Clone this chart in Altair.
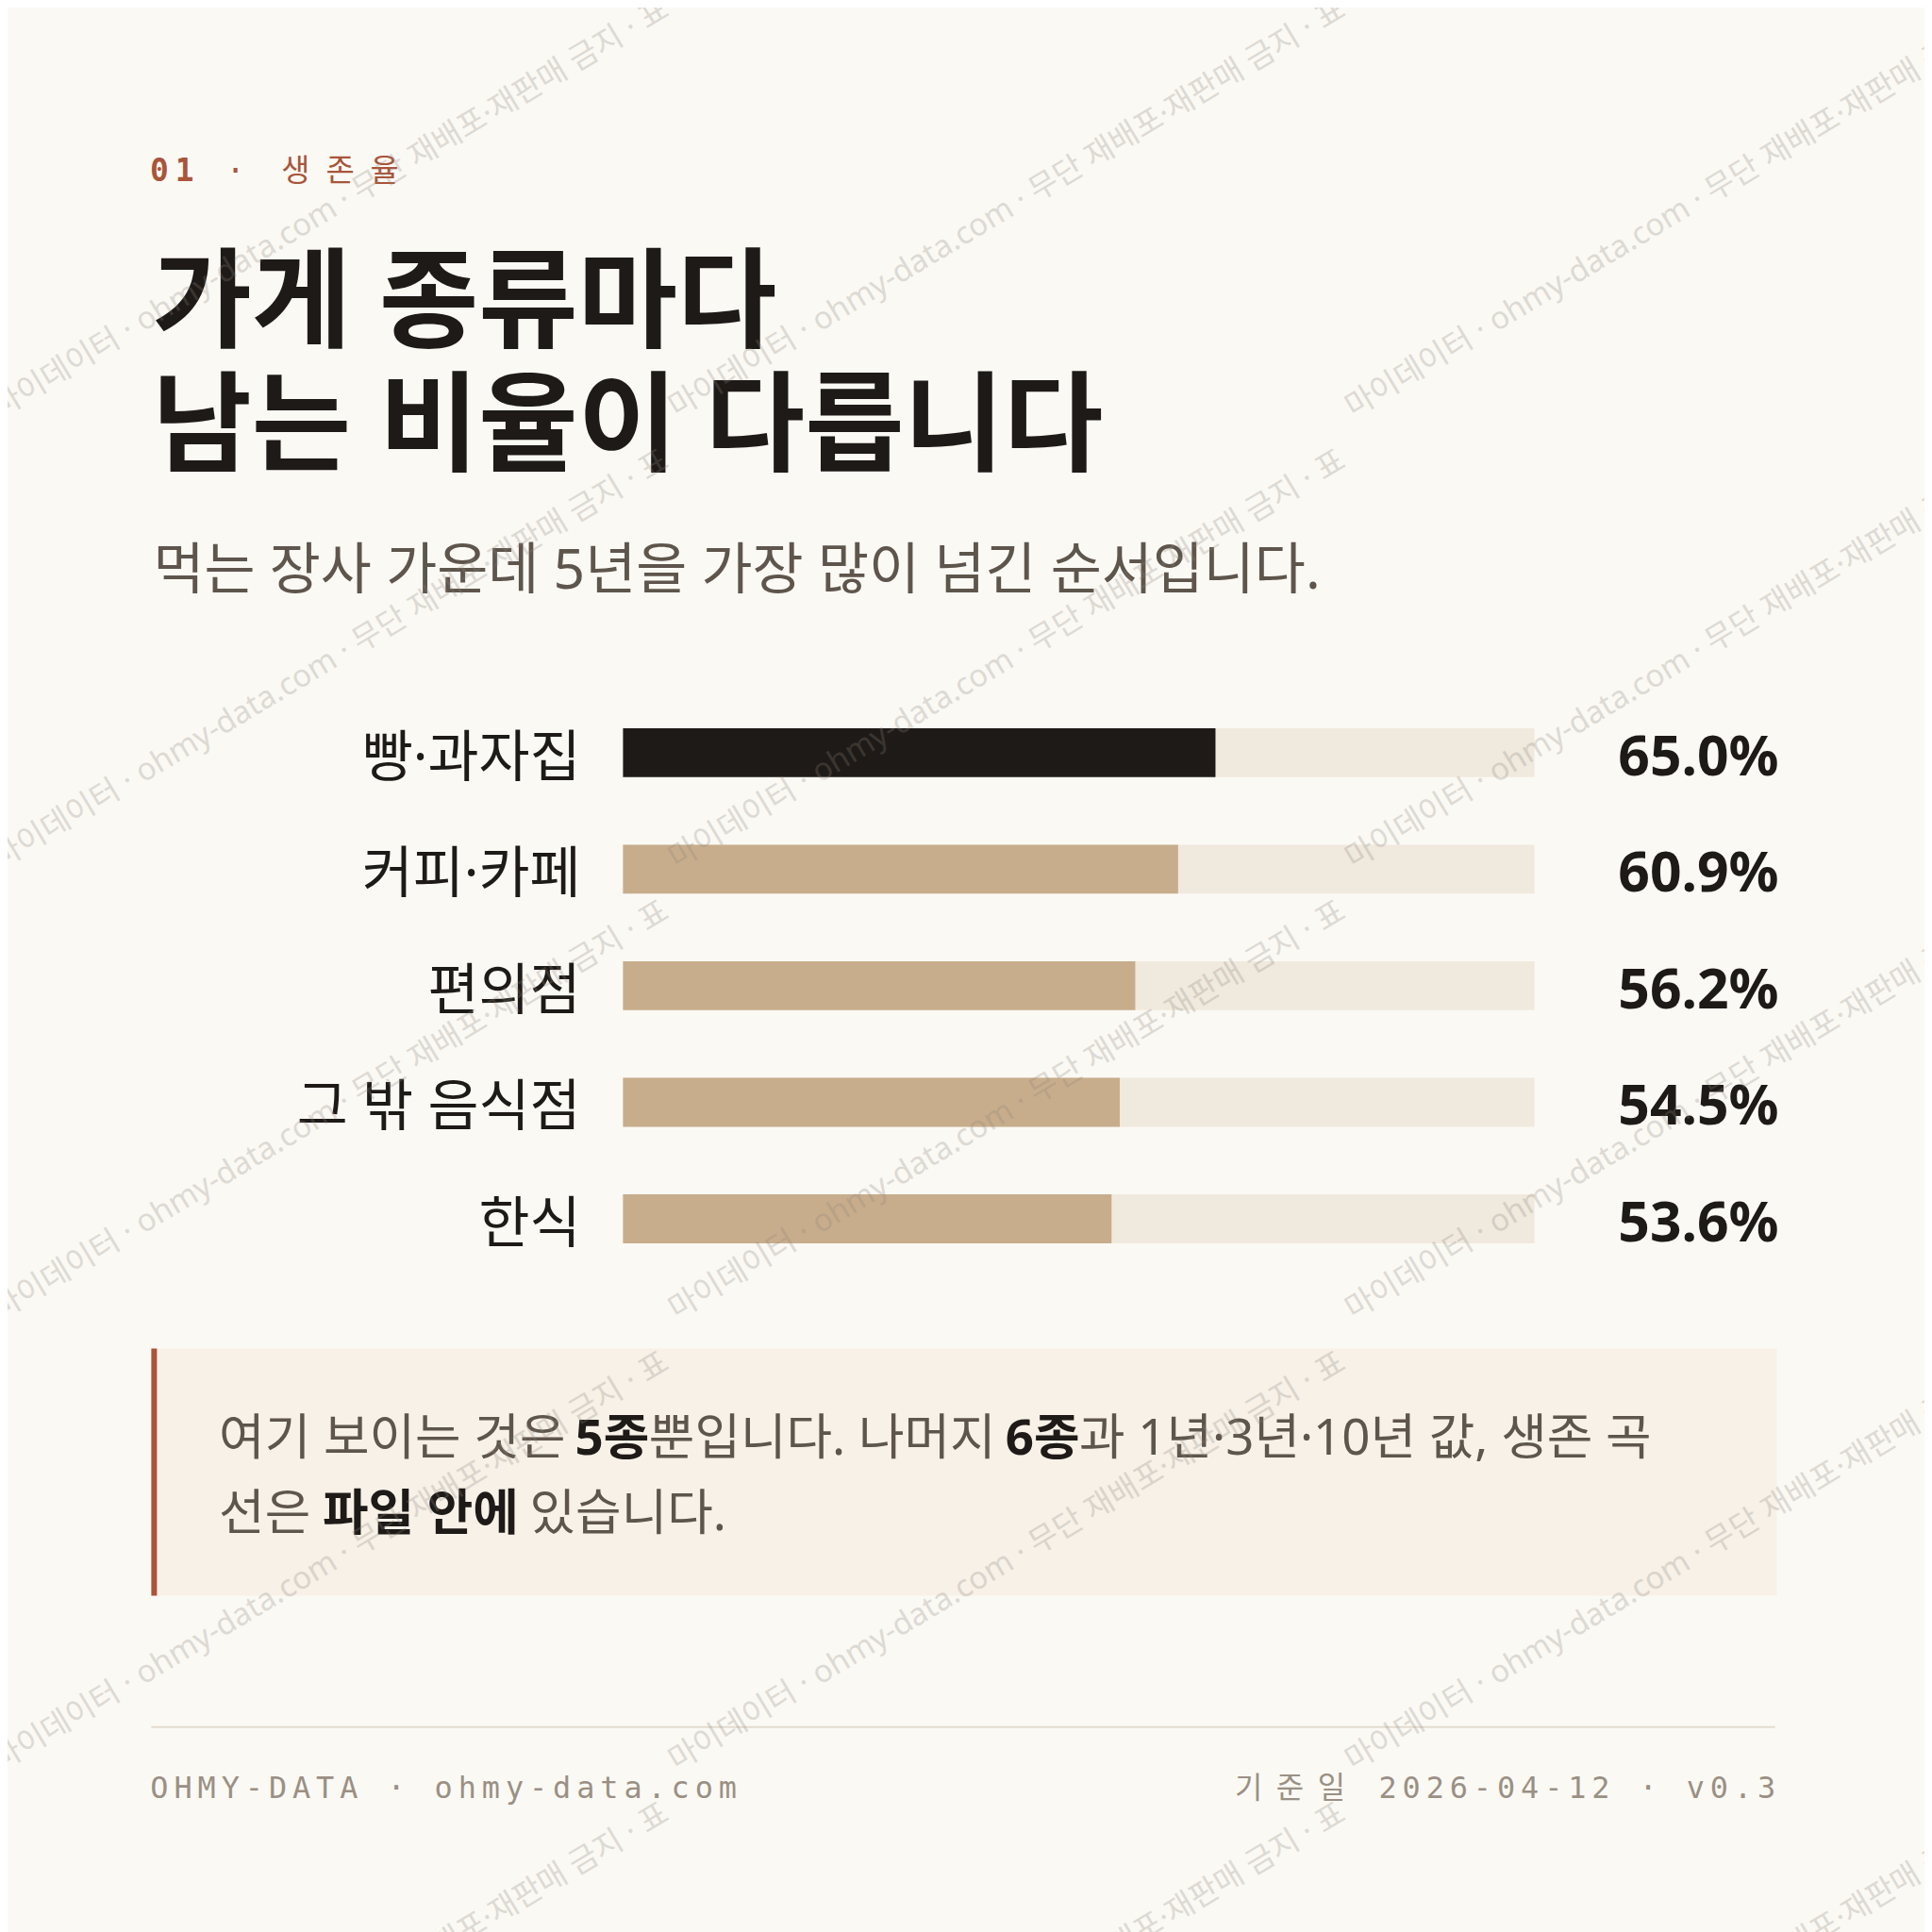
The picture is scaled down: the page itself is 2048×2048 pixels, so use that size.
"Survival rate card: store types that most often pass five years"

import altair as alt
import pandas as pd

CATEGORIES = ["빵·과자집", "커피·카페", "편의점", "그 밖 음식점", "한식"]
RATES = [65.0, 60.9, 56.2, 54.5, 53.6]

KICKER = "01 · 생존율"
TITLE_LINES = ["가게 종류마다", "남는 비율이 다릅니다"]
SUBTITLE = "먹는 장사 가운데 5년을 가장 많이 넘긴 순서입니다."
NOTE_LINE_1 = [("여기 보이는 것은 ", False), ("5종", True), ("뿐입니다. 나머지 ", False),
               ("6종", True), ("과 1년·3년·10년 값, 생존 곡", False)]
NOTE_LINE_2 = [("선은 ", False), ("파일 안에", True), (" 있습니다.", False)]
FOOTER_LEFT = "OHMY-DATA · ohmy-data.com"
FOOTER_RIGHT = "기준일 2026-04-12 · v0.3"
WATERMARK = "마이데이터 · ohmy-data.com · 무단 재배포·재판매 금지 · 표"

BG = "#FBF9F4"
INK = "#1E1A17"
GRAY = "#5E554C"
MUTED = "#9A9084"
RUST = "#A8553A"
TAN = "#C8AD8C"
TRACK = "#F0E9DE"
NOTE_BG = "#F7F1E8"
SANS = "Noto Sans, Noto Sans CJK KR"
MONO = "DejaVu Sans Mono, Noto Sans CJK KR"

ONE = pd.DataFrame({"k": [0]})


def is_hangul(ch):
    return "\uac00" <= ch <= "\ud7a3"


def text_width(s, size):
    "Rough advance width of a string in Noto Sans with CJK fallback"
    w = 0.0
    for ch in s:
        if is_hangul(ch):
            w += 0.91
        elif ch == " ":
            w += 0.26
        elif ch.isdigit():
            w += 0.572
        elif ch in ".,·":
            w += 0.27
        else:
            w += 0.5
    return w * size


def label(text, x, y, size, color=INK, weight="normal", font=SANS, align="left"):
    return alt.Chart(ONE).mark_text(
        text=text, font=font, fontSize=size, fontWeight=weight, color=color,
        align=align, baseline="alphabetic").encode(x=alt.value(x), y=alt.value(y))


def rich_line(segments, x0, y, size):
    layers = []
    x = x0
    for text, bold in segments:
        lead = len(text) - len(text.lstrip())
        layers.append(label(text.strip(), x + lead * 0.26 * size, y, size,
                            color=INK if bold else GRAY,
                            weight="bold" if bold else "normal"))
        x += text_width(text, size)
    return layers


def spaced(text, x0, y, pitch, size, color, bold_upto=0, hangul_cells=1.75):
    "Monospace text with letter spacing, one mark per character"
    rows = []
    cell = 0.0
    for i, ch in enumerate(text):
        w = hangul_cells if is_hangul(ch) else 1.0
        if ch != " ":
            rows.append({"ch": ch, "pos": cell + w / 2, "bold": i < bold_upto})
        cell += w
    df = pd.DataFrame(rows)
    base = alt.Chart(df).encode(
        x=alt.X("pos:Q", scale=alt.Scale(domain=[0, 1], range=[x0, x0 + pitch]), axis=None),
        y=alt.value(y), text="ch:N")
    style = dict(font=MONO, fontSize=size, color=color, align="center", baseline="alphabetic")
    return [
        base.transform_filter("datum.bold").mark_text(fontWeight="bold", **style),
        base.transform_filter("!datum.bold").mark_text(**style),
    ]


def cells(text, hangul_cells=1.75):
    return sum(hangul_cells if is_hangul(ch) else 1.0 for ch in text)


rates = pd.DataFrame({"category": CATEGORIES, "value": RATES})
rates["full"] = 100

y_scale = alt.Scale(type="band", domain=CATEGORIES, range=[727, 1347],
                    paddingInner=0.58, paddingOuter=0.29)
x_scale = alt.Scale(domain=[0, 100], range=[655, 1625])
y_enc = alt.Y("category:N", scale=y_scale, sort=CATEGORIES, axis=None)

base = alt.Chart(rates)
track = base.mark_bar(color=TRACK).encode(
    x=alt.X("full:Q", scale=x_scale, axis=None), y=y_enc)
bars = base.mark_bar().encode(
    x=alt.X("value:Q", scale=x_scale, axis=None), y=y_enc,
    color=alt.when(alt.datum.value == max(RATES)).then(alt.value(INK)).otherwise(alt.value(TAN)))
cat_labels = base.mark_text(font=SANS, fontSize=59, color=INK, align="right", dy=7).encode(
    x=alt.value(610), y=y_enc, text="category:N")
val_labels = base.transform_calculate(
    label="format(datum.value, '.1f') + '%'"
).mark_text(font="Noto Sans", fontSize=59, fontWeight="bold", color=INK,
            align="right", dy=6).encode(x=alt.value(1885), y=y_enc, text="label:N")
bar_block = alt.layer(track, bars, cat_labels, val_labels)

note_box = alt.Chart(ONE).mark_rect(color=NOTE_BG).encode(
    x=alt.value(153), x2=alt.value(1883), y=alt.value(1423), y2=alt.value(1686))
note_edge = alt.Chart(ONE).mark_rect(color=RUST).encode(
    x=alt.value(153), x2=alt.value(159), y=alt.value(1423), y2=alt.value(1686))
footer_rule = alt.Chart(ONE).mark_rule(color="#E3DBCF", strokeWidth=2).encode(
    x=alt.value(153), x2=alt.value(1881), y=alt.value(1826))

tiles = pd.DataFrame([{"col": c, "row": r, "t": WATERMARK} for r in range(6) for c in range(3)])
watermark = alt.Chart(tiles).mark_text(
    font=SANS, fontSize=33, color="#8C847A", opacity=0.26, angle=329,
    align="left", baseline="alphabetic").encode(
    x=alt.X("col:Q", scale=alt.Scale(domain=[0, 1], range=[-8, 712]), axis=None),
    y=alt.Y("row:Q", scale=alt.Scale(domain=[0, 1], range=[-47, 433]), axis=None),
    text="t:N")

foot_pitch = 25.2
right_x0 = 1872 - (cells(FOOTER_RIGHT) - 0.5) * foot_pitch

layers = [note_box, note_edge, footer_rule, bar_block]
layers += spaced(KICKER, 148, 181, 27, 33, RUST, bold_upto=2)
layers += [
    label(TITLE_LINES[0], 154, 348, 115, weight="bold"),
    label(TITLE_LINES[1], 154, 480, 115, weight="bold"),
    label(SUBTITLE, 155, 614, 59, color=GRAY),
]
layers += rich_line(NOTE_LINE_1, 225, 1536, 53)
layers += rich_line(NOTE_LINE_2, 225, 1616, 53)
layers += spaced(FOOTER_LEFT, 149, 1901, foot_pitch, 32, MUTED)
layers += spaced(FOOTER_RIGHT, right_x0, 1901, foot_pitch, 32, MUTED)
layers.append(watermark)

chart = alt.layer(*layers).resolve_scale(
    x="independent", y="independent"
).properties(
    width=2040, height=2040, padding=0,
    autosize=alt.AutoSizeParams(type="none"), background=BG
).configure_view(stroke=None)

chart.save("out.html", embed_options={"renderer": "svg", "actions": False})
